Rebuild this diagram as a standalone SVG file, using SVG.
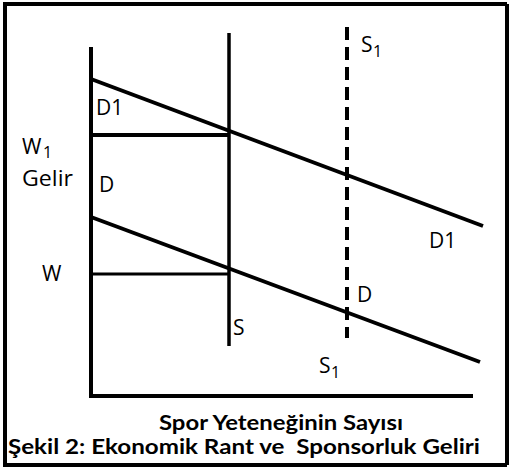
<svg xmlns="http://www.w3.org/2000/svg" width="509" height="473" viewBox="0 0 509 473">
<style>
.ln{stroke:#000;fill:none;stroke-linecap:butt}
.lb{font-family:"Open Sans","DejaVu Sans",sans-serif;font-size:21px;fill:#000}
.sub{font-family:"Open Sans","DejaVu Sans",sans-serif;font-size:16px;fill:#000}
.cap{font-family:Lato,"Open Sans",sans-serif;font-weight:bold;font-size:21px;fill:#000;white-space:pre}
</style>
<rect x="0" y="0" width="509" height="473" fill="#fff"/>
<g id="frame">
<path class="ln" d="M5,4 V465 M3,4 H507 M507,4 V465 M3,465 H507" stroke-width="4"/>
</g>
<g id="axes">
<path class="ln" d="M91,47 V398 M89,396 H473" stroke-width="4"/>
</g>
<g id="connectors">
<line id="D1-line" class="ln" x1="91" y1="79" x2="483" y2="226" stroke-width="4"/>
<line id="D-line" class="ln" x1="91" y1="217" x2="480" y2="362" stroke-width="4"/>
<line id="S-line" class="ln" x1="229" y1="33" x2="229" y2="346" stroke-width="3.5"/>
<line id="S1-line" class="ln" x1="347" y1="27" x2="347" y2="338" stroke-width="4" stroke-dasharray="13 7"/>
<line id="W1-line" class="ln" x1="91" y1="135" x2="229" y2="135" stroke-width="4"/>
<line id="W-line" class="ln" x1="91" y1="274" x2="229" y2="274" stroke-width="3"/>
</g>
<g id="labels">
<text class="lb" x="96" y="115">D1</text>
<text class="lb" x="22" y="154">W</text><text class="sub" x="43" y="158">1</text>
<text class="lb" x="22" y="186" textLength="51" lengthAdjust="spacingAndGlyphs">Gelir</text>
<text class="lb" x="99" y="192">D</text>
<text class="lb" x="42" y="281">W</text>
<text class="lb" x="233" y="335">S</text>
<text class="lb" x="361" y="52">S</text><text class="sub" x="373" y="57">1</text>
<text class="lb" x="429" y="248">D1</text>
<text class="lb" x="357" y="302">D</text>
<text class="lb" x="319" y="373">S</text><text class="sub" x="331" y="378">1</text>
</g>
<g id="caption">
<text class="cap" x="159" y="430" textLength="244" lengthAdjust="spacingAndGlyphs">Spor Yeteneğinin Sayısı</text>
<text class="cap" x="8" y="454" textLength="472" lengthAdjust="spacingAndGlyphs" xml:space="preserve">Şekil 2: Ekonomik Rant ve  Sponsorluk Geliri</text>
</g>
</svg>
